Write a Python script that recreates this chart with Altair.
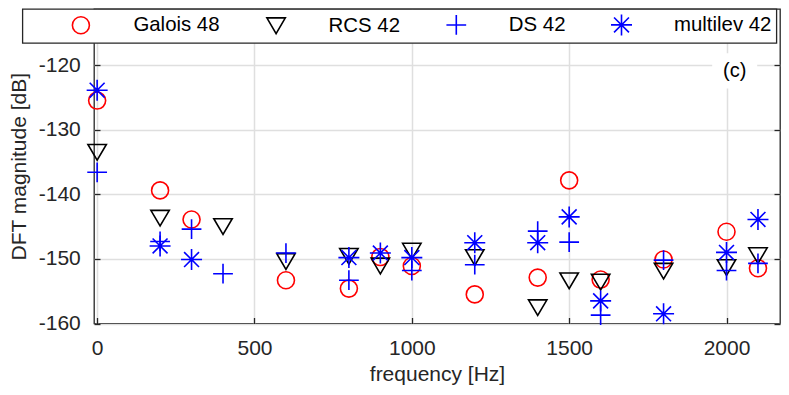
import altair as alt
import pandas as pd

series_names = ["Galois 48", "RCS 42", "DS 42", "multilev 42"]
series_colors = ["#FF0000", "#000000", "#0000FF", "#0000FF"]

galois_freq = [0, 200, 300, 600, 800, 900, 1000, 1200, 1400, 1500, 1600, 1800, 2000, 2100]
galois_mag = [-125.5, -139.4, -143.9, -153.3, -154.6, -149.7, -151.1, -155.5, -152.9, -137.85, -153.2, -150.1, -145.8, -151.45]

rcs_freq = [0, 200, 400, 600, 800, 900, 1000, 1200, 1400, 1500, 1600, 1800, 2000, 2100]
rcs_mag = [-133.5, -143.7, -145.0, -150.4, -149.6, -151.1, -148.8, -149.8, -157.55, -153.4, -153.6, -151.9, -151.35, -149.5]

ds_freq = [0, 200, 300, 400, 600, 800, 1000, 1200, 1400, 1500, 1600, 1800, 2000, 2100]
ds_mag = [-136.6, -147.3, -145.4, -152.3, -149.1, -153.3, -151.8, -150.9, -145.7, -147.4, -158.7, -150.2, -151.8, -150.7]

multi_freq = [0, 200, 300, 800, 900, 1000, 1200, 1400, 1500, 1600, 1800, 2000, 2100]
multi_mag = [-123.9, -148.0, -150.1, -149.8, -149.1, -149.8, -147.5, -147.5, -143.5, -156.5, -158.5, -149.0, -143.9]

x_ticks = [0, 500, 1000, 1500, 2000]
y_ticks = [-160, -150, -140, -130, -120]
x_domain = [-10, 2170]
y_domain = [-160, -111.33]

panel_label = ["(c)"]
panel_label_x = [2026]
panel_label_y = [-120.9]

rows = []
for name, fs, vs in zip(series_names,
                        [galois_freq, rcs_freq, ds_freq, multi_freq],
                        [galois_mag, rcs_mag, ds_mag, multi_mag]):
    for f, v in zip(fs, vs):
        rows.append({"series": name, "freq": f, "mag": v})
df = pd.DataFrame(rows)

ann = pd.DataFrame({"label": panel_label, "x": panel_label_x, "y": panel_label_y})

# marker shapes (MATLAB-like o, v, +, *)
tri = "M-1,-0.85L1,-0.85L0,0.85Z"
plus = "M-1,0L1,0M0,-1L0,1"
star = "M-1,0L1,0M0,-1L0,1M-0.71,-0.71L0.71,0.71M-0.71,0.71L0.71,-0.71"
shapes = ["circle", tri, plus, star]
sizes = [289, 441, 441, 400]

FONT = "Liberation Sans"
AX = "#262626"
GRID = "#dfdfdf"

x_scale = alt.Scale(domain=x_domain, nice=False, zero=False)
y_scale = alt.Scale(domain=y_domain, nice=False, zero=False)

x_axis = alt.Axis(values=x_ticks, grid=True, domain=False, ticks=True, tickSize=6,
                  offset=-6, tickColor=AX, tickWidth=1.3, labelPadding=13.5,
                  labelFontSize=21, labelColor=AX, labelFont=FONT, format="d",
                  title="frequency [Hz]", titleFontSize=21, titleFont=FONT,
                  titleFontWeight="normal", titleColor=AX, titlePadding=5.5,
                  gridColor=GRID, gridWidth=1.5)
y_axis = alt.Axis(values=y_ticks, grid=True, domain=False, ticks=True, tickSize=6,
                  offset=-6, tickColor=AX, tickWidth=1.3, labelPadding=13.7,
                  labelFontSize=21, labelColor=AX, labelFont=FONT,
                  labelExpr="'' + datum.value",
                  title="DFT magnitude [dB]", titleFontSize=21, titleFont=FONT,
                  titleFontWeight="normal", titleColor=AX, titlePadding=8.6,
                  gridColor=GRID, gridWidth=1.5)
y_axis_right = alt.Axis(values=y_ticks, orient="right", grid=False, domain=False,
                        ticks=True, tickSize=6, offset=-6, tickColor=AX,
                        tickWidth=1.3, labels=False, title=None)

leg = alt.Legend(title=None, orient="none", legendX=-71.6, legendY=0,
                 direction="horizontal", columns=4, padding=4,
                 fillColor="white", strokeColor=AX,
                 symbolOffset=43, labelOffset=41, columnPadding=1.2,
                 labelFontSize=20.4, labelFont=FONT, labelColor="#000000",
                 symbolStrokeWidth=1.6, labelLimit=300)

points = alt.Chart(df).mark_point(filled=False, strokeWidth=1.6, opacity=1).encode(
    x=alt.X("freq:Q", scale=x_scale, axis=x_axis),
    y=alt.Y("mag:Q", scale=y_scale, axis=y_axis),
    color=alt.Color("series:N", scale=alt.Scale(domain=series_names, range=series_colors), legend=leg),
    shape=alt.Shape("series:N", scale=alt.Scale(domain=series_names, range=shapes), legend=leg),
    size=alt.Size("series:N", scale=alt.Scale(domain=series_names, range=sizes), legend=leg),
)

backdrop = alt.Chart(ann).mark_point(
    shape="M-1,-0.78L1,-0.78L1,0.78L-1,0.78Z", filled=True, fill="white",
    opacity=1, size=2025
).encode(x=alt.X("x:Q", scale=x_scale, axis=x_axis),
         y=alt.Y("y:Q", scale=y_scale, axis=y_axis_right))

label = alt.Chart(ann).mark_text(fontSize=20, font=FONT, color="#000000",
                                 align="center", baseline="middle").encode(
    x=alt.X("x:Q", scale=x_scale, axis=x_axis),
    y=alt.Y("y:Q", scale=y_scale, axis=None), text="label:N")

chart = alt.layer(backdrop, points, label).resolve_axis(y="independent").properties(
    width=686, height=314.5,
    padding={"left": 0, "top": 0, "right": 0, "bottom": 0},
).configure_view(stroke=AX, strokeWidth=1.3).configure_legend(strokeWidth=1.3)

chart.save("out.html", embed_options={"renderer": "svg", "actions": False})
